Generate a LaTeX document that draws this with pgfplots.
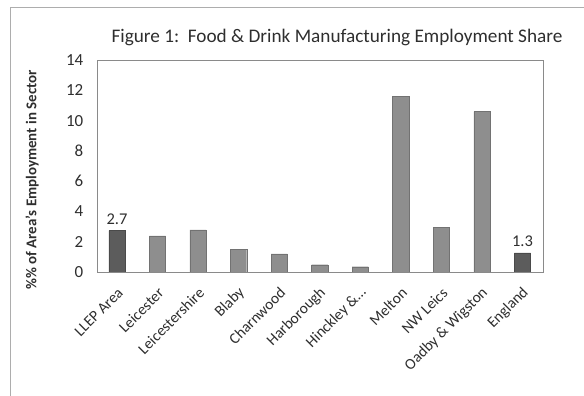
\documentclass[border=0pt]{standalone}
\usepackage{pgfplots}
\pgfplotsset{compat=1.18}
\usepackage{fontspec}
\setmainfont{Carlito}
\definecolor{bargray}{HTML}{8E8E8E}
\definecolor{bardark}{HTML}{5C5C5C}
\definecolor{framegray}{HTML}{8A8A8A}
\definecolor{txt}{HTML}{2E2E2E}
\begin{document}
\begin{tikzpicture}
\path[use as bounding box] (0bp,0bp) rectangle (584bp,396bp);
\draw[framegray!70, line width=0.8pt] (10bp,0bp) -- (10bp,389bp) -- (584bp,389bp);
\node[txt, font=\fontsize{19.3}{22}\selectfont] at (337bp,359bp) {Figure 1:\ \ Food \& Drink Manufacturing Employment Share};
\node[txt, rotate=90, font=\fontsize{15}{17}\selectfont\bfseries] at (32bp,216bp) {\%\% of Area's Employment in Sector};
\begin{axis}[
  at={(96.7bp,124bp)}, anchor=south west,
  scale only axis, width=446bp, height=212bp,
  xmin=-0.5, xmax=10.5, ymin=0, ymax=14,
  ytick={0,2,4,6,8,10,12,14},
  xtick={0,1,2,3,4,5,6,7,8,9,10},
  xticklabels={{LLEP Area},{Leicester},{Leicestershire},{Blaby},{Charnwood},{Harborough},{Hinckley \&\ldots},{Melton},{NW Leics},{Oadby \& Wigston},{England}},
  xticklabel style={xshift=6pt, yshift=-16pt, rotate=45, anchor=east, font=\fontsize{15.5}{17}\selectfont, text=txt},
  yticklabel style={font=\fontsize{17}{19}\selectfont, text=txt, xshift=-10pt},
  /pgf/number format/assume math mode=true,
  major tick length=0pt,
  axis line style={framegray},
  ybar, bar width=0.4,
]
\addplot[fill=bargray, draw=bargray!80!black, bar shift=0pt] coordinates {
  (1,2.38) (2,2.79) (3,1.49) (4,1.19) (5,0.48) (6,0.35) (7,11.58) (8,2.97) (9,10.59)
};
\addplot[fill=bardark, draw=bardark!80!black, bar shift=0pt,
  nodes near coords, point meta=explicit symbolic,
  every node near coord/.append style={font=\fontsize{16.5}{18}\selectfont, text=txt, yshift=3pt}] coordinates {
  (0,2.73) [2.7] (10,1.26) [1.3]
};
\end{axis}
\end{tikzpicture}
\end{document}
